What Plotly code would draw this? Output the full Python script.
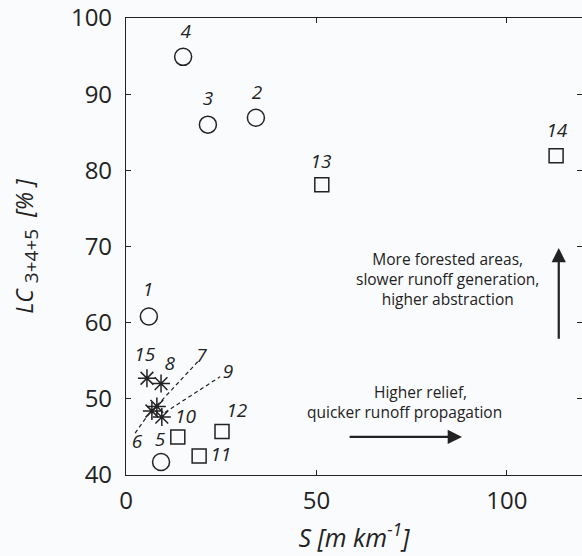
import plotly.graph_objects as go

# Circles
circ_id = ["1", "2", "3", "4", "5"]
circ_x = [6.0, 34.1, 21.5, 15.0, 9.2]
circ_y = [60.8, 86.9, 86.0, 94.9, 41.7]
# Squares
sq_id = ["10", "11", "12", "13", "14"]
sq_x = [13.6, 19.2, 25.2, 51.4, 112.9]
sq_y = [45.0, 42.5, 45.7, 78.1, 81.9]
# Stars
st_id = ["6", "7", "8", "9", "15"]
st_x = [6.8, 8.1, 9.2, 9.4, 5.5]
st_y = [48.4, 49.0, 52.0, 47.6, 52.7]

# Label positions
lab_text = ["1", "2", "3", "4", "5", "6", "7", "8", "9", "10", "11", "12", "13", "14", "15"]
lab_x = [5.8, 34.4, 21.5, 15.7, 8.9, 2.9, 19.8, 11.5, 26.8, 15.6, 24.9, 29.1, 51.2, 113.1, 4.9]
lab_y = [64.1, 90.0, 89.2, 98.0, 44.4, 44.2, 55.4, 54.4, 53.4, 47.5, 42.4, 48.3, 80.9, 85.0, 55.6]

# Dashed leader lines (label 6, label 7, label 9)
lead6_x = [2.4, 6.8]
lead6_y = [45.5, 48.6]
lead7_x = [8.1, 18.9]
lead7_y = [49.1, 54.9]
lead9_x = [10.2, 24.7]
lead9_y = [48.2, 52.9]

x_ticks = [0, 50, 100]
y_ticks = [40, 50, 60, 70, 80, 90, 100]

ink = "#222222"
fnt = "Open Sans"
fig = go.Figure()

for lx, ly in [(lead6_x, lead6_y), (lead7_x, lead7_y), (lead9_x, lead9_y)]:
    fig.add_trace(go.Scatter(x=lx, y=ly, mode="lines",
                             line=dict(color=ink, width=1.2, dash="4px,3px"),
                             showlegend=False, hoverinfo="skip"))

fig.add_trace(go.Scatter(x=circ_x, y=circ_y, mode="markers", text=circ_id,
                         marker=dict(symbol="circle-open", size=17, color=ink,
                                     line=dict(width=1.5, color=ink)),
                         showlegend=False))
fig.add_trace(go.Scatter(x=sq_x, y=sq_y, mode="markers", text=sq_id,
                         marker=dict(symbol="square-open", size=14, color=ink,
                                     line=dict(width=1.5, color=ink)),
                         showlegend=False))
fig.add_trace(go.Scatter(x=st_x, y=st_y, mode="markers", text=st_id,
                         marker=dict(symbol="asterisk-open", size=15, color=ink,
                                     line=dict(width=1.5, color=ink)),
                         showlegend=False))

fig.add_trace(go.Scatter(x=lab_x, y=lab_y, mode="text", text=lab_text,
                         textfont=dict(family=fnt, size=19, color=ink, style="italic"),
                         showlegend=False, hoverinfo="skip"))

# Arrows
fig.add_annotation(x=88.2, y=45.0, ax=58.3, ay=45.0, xref="x", yref="y",
                   axref="x", ayref="y", showarrow=True, arrowhead=2,
                   arrowsize=1.3, arrowwidth=2.2, arrowcolor=ink, text="")
fig.add_annotation(x=113.6, y=69.8, ax=113.6, ay=57.7, xref="x", yref="y",
                   axref="x", ayref="y", showarrow=True, arrowhead=2,
                   arrowsize=1.3, arrowwidth=2.2, arrowcolor=ink, text="")

fig.add_annotation(x=84.5, y=65.7, xref="x", yref="y", showarrow=False,
                   text="More forested areas,<br>slower runoff generation,<br>higher abstraction",
                   font=dict(family=fnt, size=15.5, color=ink), align="center")
fig.add_annotation(x=77.2, y=50.9, xref="x", yref="y", showarrow=False,
                   text="Higher relief,",
                   font=dict(family=fnt, size=15.5, color=ink))
fig.add_annotation(x=73.2, y=48.3, xref="x", yref="y", showarrow=False,
                   text="quicker runoff propagation",
                   font=dict(family=fnt, size=15.5, color=ink))

bg = "#fafbfd"
fig.update_layout(
    width=582, height=556,
    margin=dict(l=126, r=0, t=18, b=81),
    paper_bgcolor=bg, plot_bgcolor=bg,
    font=dict(family=fnt, color=ink),
    xaxis=dict(range=[0, 119.7], tickvals=x_ticks, ticks="inside", ticklen=5,
               tickcolor=ink, showline=True, linecolor=ink, linewidth=1.2,
               mirror="ticks", showgrid=False, zeroline=False,
               ticklabelstandoff=4,
               tickfont=dict(size=24, color=ink),
               title=dict(text="<i>S [m km<sup>-1</sup>]</i>", font=dict(size=25, color=ink),
                          standoff=14)),
    yaxis=dict(range=[40, 100], tickvals=y_ticks, ticks="inside", ticklen=5,
               tickcolor=ink, showline=True, linecolor=ink, linewidth=1.2,
               mirror="ticks", showgrid=False, zeroline=False,
               ticklabelstandoff=8,
               tickfont=dict(size=24, color=ink),
               title=dict(text="<i>LC</i>&nbsp;<sub><span style='font-size:19px'>3+4+5</span></sub>&nbsp;&nbsp;<i>[%&nbsp;]</i>",
                          font=dict(size=23, color=ink), standoff=30)),
)

fig.write_html("out.html")
